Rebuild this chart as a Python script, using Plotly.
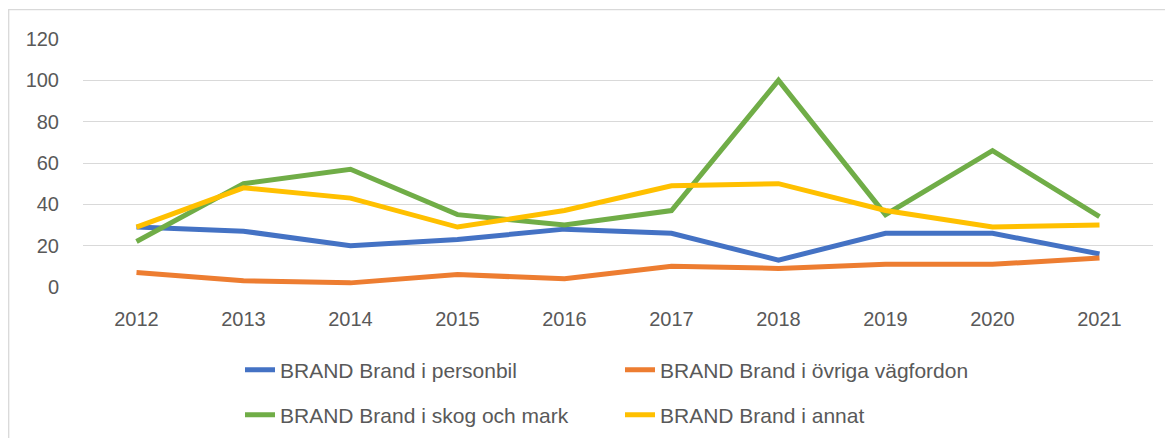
import plotly.graph_objects as go

years = ["2012", "2013", "2014", "2015", "2016", "2017", "2018", "2019", "2020", "2021"]
personbil = [29, 27, 20, 23, 28, 26, 13, 26, 26, 16]
ovriga = [7, 3, 2, 6, 4, 10, 9, 11, 11, 14]
skog = [22, 50, 57, 35, 30, 37, 100, 35, 66, 34]
annat = [29, 48, 43, 29, 37, 49, 50, 37, 29, 30]

names = ["BRAND Brand i personbil", "BRAND Brand i övriga vägfordon",
         "BRAND Brand i skog och mark", "BRAND Brand i annat"]
colors = ["#4472C4", "#ED7D31", "#70AD47", "#FFC000"]
series = [personbil, ovriga, skog, annat]
legends = ["legend", "legend2", "legend3", "legend4"]

# The page body has an 8px margin, so the figure is drawn 8px right/down.
OFF = 8
W, H = 1165, 430
L, R, T, B = 83 - OFF, 20, 39 - OFF, None
B = H - (287 - OFF)
pw, ph = W - L - R, H - T - B

def px(x):  # page pixel -> paper x
    return (x - OFF - L) / pw

def py(y):  # page pixel -> paper y
    return (H - B - (y - OFF)) / ph

fig = go.Figure()
for name, vals, col, lg in zip(names, series, colors, legends):
    fig.add_trace(go.Scatter(x=years, y=vals, name=name, mode="lines",
                             line=dict(color=col, width=5), legend=lg))

font_axis = dict(family="Liberation Sans, Arial, sans-serif", size=20, color="#595959")
font_leg = dict(family="Liberation Sans, Arial, sans-serif", size=21, color="#595959")

def leg(text_x, row_y):
    return dict(orientation="h", xref="container", yref="container",
                x=(text_x - OFF - 42) / W, y=1 - (row_y - OFF - 1) / H,
                xanchor="left", yanchor="middle", font=font_leg,
                bgcolor="rgba(0,0,0,0)", borderwidth=0)

fig.update_layout(
    width=W, height=H,
    margin=dict(l=L, r=R, t=T, b=B, autoexpand=False),
    paper_bgcolor="white", plot_bgcolor="white",
    showlegend=True,
    legend=leg(282, 371),
    legend2=leg(662, 371),
    legend3=leg(282, 416),
    legend4=leg(662, 416),
    xaxis=dict(type="category", tickfont=font_axis, showgrid=False, zeroline=False,
               showline=False, ticks="", ticklabelstandoff=18, automargin=False,
               range=[-0.5, 9.5], fixedrange=True),
    yaxis=dict(range=[0, 120], tickvals=[0, 20, 40, 60, 80, 100, 120],
               tickfont=font_axis, showgrid=True, gridcolor="#D9D9D9", gridwidth=1.3,
               zeroline=False, showline=False, ticks="", ticklabelstandoff=23,
               automargin=False, fixedrange=True),
    shapes=[
        dict(type="line", xref="paper", yref="paper", x0=px(8.7), x1=px(8.7),
             y0=py(OFF + H + 5), y1=py(9), line=dict(color="#D9D9D9", width=1.3)),
        dict(type="line", xref="paper", yref="paper", x0=px(8.7), x1=px(OFF + W + 5),
             y0=py(9.7), y1=py(9.7), line=dict(color="#D9D9D9", width=1.3)),
    ],
)

fig.write_html("out.html")
